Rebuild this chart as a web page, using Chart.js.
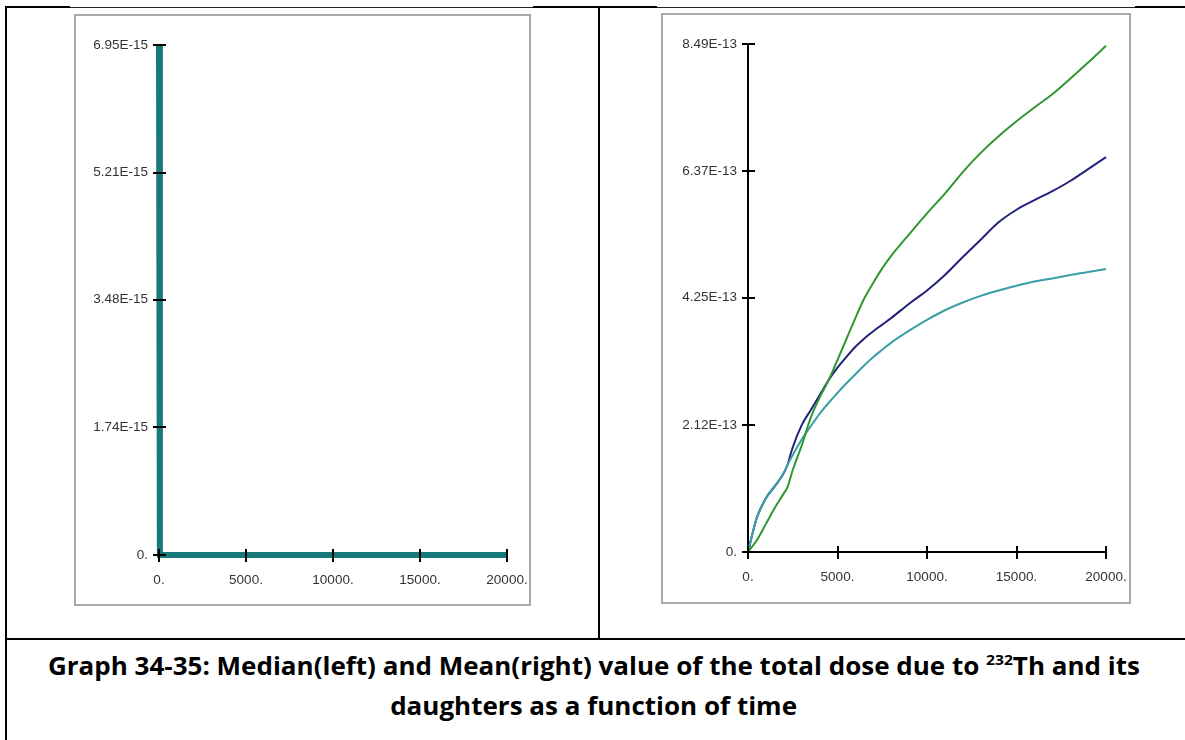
<!DOCTYPE html>
<html>
<head>
<meta charset="utf-8">
<title>Graph 34-35</title>
<script src="https://cdn.jsdelivr.net/npm/chart.js@4.4.1/dist/chart.umd.min.js"></script>
<style>
  html, body { margin: 0; padding: 0; background: #fff; }
  body { width: 1185px; height: 740px; position: relative; overflow: hidden; }
  .rule { position: absolute; background: #000; }
  .thin { background: #222; }
  .frame { position: absolute; box-sizing: border-box; border: 2px solid #a9a9a9; background: #fff; }
  canvas { position: absolute; }
  .caption {
    position: absolute; left: 0; width: 1188px; text-align: center;
    font-family: "Open Sans", "Noto Sans", sans-serif; font-weight: 700;
    font-size: 25px; line-height: 40px; color: #000; white-space: nowrap;
  }
  .caption span.inner { display: inline-block; transform-origin: 50% 50%; }
  .caption sup { font-size: 15px; line-height: 0; vertical-align: 10px; }
</style>
</head>
<body>
  <!-- table borders -->
  <div class="rule" style="left:5px;top:6px;width:65px;height:2px"></div>
  <div class="rule thin" style="left:70px;top:7px;width:463px;height:1px"></div>
  <div class="rule" style="left:533px;top:6px;width:124px;height:2px"></div>
  <div class="rule thin" style="left:657px;top:7px;width:478px;height:1px"></div>
  <div class="rule" style="left:1135px;top:6px;width:50px;height:2px"></div>
  <div class="rule" style="left:5px;top:6px;width:2px;height:734px"></div>
  <div class="rule" style="left:598px;top:6px;width:2px;height:633px"></div>
  <div class="rule" style="left:5px;top:638px;width:1180px;height:2px"></div>

  <!-- chart frames -->
  <div class="frame" style="left:74px;top:14px;width:457px;height:592px"></div>
  <canvas id="medianChart" width="457" height="592" style="left:74px;top:14px"></canvas>
  <div class="frame" style="left:661px;top:13px;width:470px;height:591px"></div>
  <canvas id="meanChart" width="470" height="591" style="left:661px;top:13px"></canvas>

  <div class="caption" id="cap1" style="top:645px"><span class="inner">Graph 34-35: Median(left) and Mean(right) value of the total dose due to <sup>232</sup>Th and its</span></div>
  <div class="caption" id="cap2" style="top:685px"><span class="inner">daughters as a function of time</span></div>

<script>
// time axis (years)
const xTicks = [0, 5000, 10000, 15000, 20000];
const xTickLabels = ["0.", "5000.", "10000.", "15000.", "20000."];

// left: median dose, units of 1E-15
const medianYTicks = [0, 1.74, 3.48, 5.21, 6.95];
const medianYTickLabels = ["0.", "1.74E-15", "3.48E-15", "5.21E-15", "6.95E-15"];
const medianTimes = [0, 50, 20000];
const medianValues = [6.95, 0, 0];

// right: mean dose, units of 1E-13
const meanYTicks = [0, 2.12, 4.25, 6.37, 8.49];
const meanYTickLabels = ["0.", "2.12E-13", "4.25E-13", "6.37E-13", "8.49E-13"];
const meanTimes = [0, 500, 1000, 1500, 2000, 2200, 2500, 3000, 3500, 4000, 4500, 5000, 5500, 6000, 6500,
  7000, 7500, 8000, 9000, 10000, 11000, 12000, 13000, 14000, 15000, 16000, 17000, 18000, 19000, 20000];
const greenValues = [0, 0.20, 0.47, 0.74, 0.98, 1.08, 1.37, 1.78, 2.24, 2.58, 2.87, 3.21, 3.56, 3.91, 4.24,
  4.50, 4.74, 4.95, 5.31, 5.66, 5.99, 6.35, 6.67, 6.95, 7.20, 7.43, 7.65, 7.91, 8.18, 8.46];
const blueValues = [0, 0.58, 0.90, 1.10, 1.32, 1.45, 1.75, 2.12, 2.37, 2.62, 2.87, 3.08, 3.26, 3.43, 3.57,
  3.69, 3.80, 3.91, 4.15, 4.37, 4.63, 4.93, 5.22, 5.51, 5.72, 5.88, 6.03, 6.20, 6.40, 6.60];
const cyanValues = [0, 0.58, 0.90, 1.10, 1.32, 1.45, 1.62, 1.88, 2.10, 2.31, 2.49, 2.66, 2.82, 2.97, 3.12,
  3.26, 3.38, 3.50, 3.70, 3.88, 4.04, 4.17, 4.28, 4.37, 4.45, 4.52, 4.57, 4.63, 4.68, 4.73];

const toPoints = (xs, ys) => xs.map((x, i) => ({ x, y: ys[i] }));

// ticks that cross the axis, drawn over the curves
const crossTicks = {
  id: "crossTicks",
  afterDatasetsDraw(chart) {
    const { ctx, scales: { x, y } } = chart;
    ctx.save();
    ctx.strokeStyle = "#000";
    ctx.lineWidth = 2;
    ctx.beginPath();
    x.ticks.forEach(t => {
      const px = Math.round(x.getPixelForValue(t.value));
      ctx.moveTo(px, y.bottom - 6);
      ctx.lineTo(px, y.bottom + 7);
    });
    y.ticks.forEach(t => {
      const py = Math.round(y.getPixelForValue(t.value));
      ctx.moveTo(x.left - 6, py);
      ctx.lineTo(x.left + 7, py);
    });
    ctx.stroke();
    ctx.restore();
  }
};

const tickFont = { family: "'Liberation Sans', Arial, sans-serif", size: 13.5 };

// fixed axis sizes so the plot area lands where the original one is
const fixX = h => s => { s.height = h; s.paddingLeft = 0; s.paddingRight = 0; };
const fixY = w => s => { s.width = w; s.paddingTop = 0; s.paddingBottom = 0; };

const buildOptions = (yTicks, yLabels, pad, yWidth, xHeight) => ({
  responsive: false,
  animation: false,
  layout: { padding: pad },
  plugins: { legend: { display: false }, tooltip: { enabled: false } },
  elements: { point: { radius: 0 } },
  scales: {
    x: {
      type: "linear",
      min: xTicks[0],
      max: xTicks[xTicks.length - 1],
      afterBuildTicks: s => { s.ticks = xTicks.map(v => ({ value: v })); },
      afterFit: fixX(xHeight),
      grid: { display: true, drawOnChartArea: false, drawTicks: false },
      border: { display: true, color: "#000", width: 2 },
      ticks: {
        color: "#333",
        font: tickFont,
        padding: 17,
        maxRotation: 0,
        callback: v => xTickLabels[xTicks.indexOf(v)]
      }
    },
    y: {
      type: "linear",
      min: yTicks[0],
      max: yTicks[yTicks.length - 1],
      afterBuildTicks: s => { s.ticks = yTicks.map(v => ({ value: v })); },
      afterFit: fixY(yWidth),
      grid: { display: true, drawOnChartArea: false, drawTicks: false },
      border: { display: true, color: "#000", width: 2 },
      ticks: {
        color: "#333",
        font: tickFont,
        padding: 11,
        callback: v => yLabels[yTicks.indexOf(v)]
      }
    }
  }
});

// median (left)
new Chart(document.getElementById("medianChart"), {
  type: "line",
  data: {
    datasets: [{
      data: toPoints(medianTimes, medianValues),
      borderColor: "#18797a",
      borderWidth: 6,
      tension: 0,
      clip: false
    }]
  },
  options: buildOptions(medianYTicks, medianYTickLabels, { left: 0, right: 24, top: 31, bottom: 0 }, 85, 51),
  plugins: [crossTicks]
});

// mean (right)
new Chart(document.getElementById("meanChart"), {
  type: "line",
  data: {
    datasets: [
      { data: toPoints(meanTimes, greenValues), borderColor: "#2f972f", borderWidth: 2, cubicInterpolationMode: "monotone", clip: false },
      { data: toPoints(meanTimes, cyanValues), borderColor: "#3a9ea6", borderWidth: 2, cubicInterpolationMode: "monotone", clip: false },
      { data: toPoints(meanTimes, blueValues), borderColor: "#22227a", borderWidth: 2, cubicInterpolationMode: "monotone", clip: false }
    ]
  },
  options: buildOptions(meanYTicks, meanYTickLabels, { left: 0, right: 25, top: 31, bottom: 0 }, 87, 52),
  plugins: [crossTicks]
});

// squeeze the caption to the width of the original lines
const cap1 = document.querySelector("#cap1 .inner");
const cap2 = document.querySelector("#cap2 .inner");
const k = 1092 / cap1.getBoundingClientRect().width;
cap1.style.transform = `scaleX(${k})`;
cap2.style.transform = `scaleX(${k})`;
</script>
</body>
</html>
